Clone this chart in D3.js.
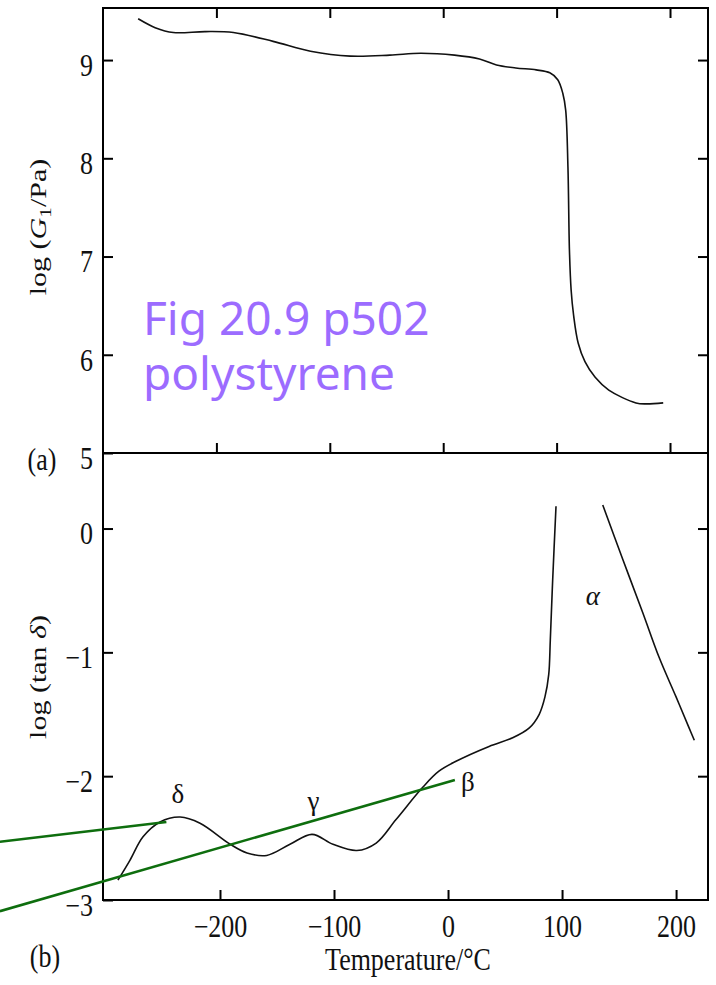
<!DOCTYPE html>
<html>
<head>
<meta charset="utf-8">
<script src="https://cdn.jsdelivr.net/npm/d3@7"></script>
<style>
  body { margin: 0; background: #fff; }
</style>
</head>
<body>
<div id="chart"></div>
<script>
// panel (a): storage modulus, log(G1/Pa) against temperature
var gTemp = [-269, -254, -238, -210, -185, -150, -117, -82, -47, -20, 10, 32, 47, 64, 82, 94, 101, 105.5, 108, 110, 111.3, 112.8, 115, 119, 125, 134, 146, 170, 179, 194]
var gLog  = [9.42, 9.33, 9.28, 9.29, 9.28, 9.19, 9.09, 9.04, 9.05, 9.07, 9.05, 9.01, 8.95, 8.92, 8.90, 8.87, 8.80, 8.66, 8.49, 7.91, 7.07, 6.66, 6.40, 6.12, 5.93, 5.77, 5.64, 5.51, 5.50, 5.51]

// panel (b): loss tangent, below and above the alpha peak
var tanTempLow = [-289.5, -279, -267.5, -252.6, -235, -217.5, -191, -176.3, -159, -138.6, -119.3, -100.9, -80, -63, -45.6, -22.2, -8, 7, 36, 56.7, 71.3, 80, 85, 88.3, 89.7, 91.8, 94.7]
var tanLogLow  = [-2.84, -2.68, -2.49, -2.37, -2.33, -2.38, -2.55, -2.62, -2.64, -2.55, -2.47, -2.55, -2.60, -2.54, -2.35, -2.09, -1.96, -1.88, -1.76, -1.69, -1.61, -1.50, -1.36, -1.18, -0.90, -0.41, 0.18]
var tanTempHigh = [135.7, 153.3, 170.8, 185.1, 200, 211.4, 216]
var tanLogHigh  = [0.19, -0.25, -0.68, -1.04, -1.36, -1.61, -1.71]

// relaxation names and where they are written
var peakNames = ["δ", "γ", "β", "α"]
var peakTemp  = [-237, -118, 17.5, 127]
var peakLog   = [-2.215, -2.27, -2.12, -0.62]

// green guide lines drawn over panel (b)
var guideStartTemp = [-393, -393], guideStartLog = [-2.53, -3.09]
var guideEndTemp   = [-247, 6],    guideEndLog   = [-2.37, -2.03]

var tempTicks = [-200, -100, 0, 100, 200]
var gTicks = [5, 6, 7, 8, 9]
var tanTicks = [-3, -2, -1, 0]

var width = 716, height = 985
var plotL = 103, plotR = 708, plotT = 8, plotM = 453, plotB = 900
var serif = "'Liberation Serif', 'Times New Roman', serif"

var svg = d3.select("#chart").append("svg")
    .attr("width", width)
    .attr("height", height)

var xA = d3.scaleLinear().domain([-300, 233.5]).range([plotL, plotR])
var yA = d3.scaleLinear().domain([5, 9.53]).range([plotM, plotT])
var xB = d3.scaleLinear().domain([-302.6, 228]).range([plotL, plotR])
var yB = d3.scaleLinear().domain([-3, 0.61]).range([plotB, plotM])

function styleAxis(g) {
  g.select(".domain").remove()
  g.selectAll("line").attr("stroke", "#000").attr("stroke-width", 2)
  g.selectAll("text")
    .attr("font-family", serif)
    .attr("font-size", 26)
    .attr("fill", "#111")
}

function addAxis(axis, tx, ty, labels) {
  axis.tickSizeInner(-10).tickSizeOuter(0).tickPadding(10)
  if (!labels) axis.tickFormat("")
  var g = svg.append("g")
      .attr("transform", "translate(" + tx + "," + ty + ")")
      .call(axis)
  styleAxis(g)
  return g
}

// panel (a) axes
addAxis(d3.axisLeft(yA).tickValues(gTicks).tickFormat(d3.format("d")), plotL, 0, true)
  .selectAll("text").attr("dy", "0.5em").attr("transform", "scale(1,1.18)")
addAxis(d3.axisRight(yA).tickValues(gTicks.slice(1)), plotR, 0, false)
addAxis(d3.axisTop(xA).tickValues(tempTicks), 0, plotT, false)
addAxis(d3.axisBottom(xA).tickValues(tempTicks), 0, plotM, false)

// panel (b) axes
addAxis(d3.axisLeft(yB).tickValues(tanTicks).tickFormat(d3.format("d")), plotL, 0, true)
  .selectAll("text").attr("dy", "0.5em").attr("transform", "scale(1,1.18)")
addAxis(d3.axisRight(yB).tickValues(tanTicks.slice(1)), plotR, 0, false)
addAxis(d3.axisBottom(xB).tickValues(tempTicks).tickFormat(d3.format("d")), 0, plotB, true)
  .selectAll("text").attr("y", 0).attr("dy", 0).attr("transform", "translate(0,37) scale(1,1.18)")

// frames
svg.append("rect")
    .attr("x", plotL).attr("y", plotT)
    .attr("width", plotR - plotL).attr("height", plotB - plotT)
    .attr("fill", "none").attr("stroke", "#000").attr("stroke-width", 2)
svg.append("line")
    .attr("x1", plotL).attr("x2", plotR)
    .attr("y1", plotM).attr("y2", plotM)
    .attr("stroke", "#000").attr("stroke-width", 2)

// curves
var smooth = d3.curveCatmullRom.alpha(0.5)
var lineA = d3.line().x(d => xA(d[0])).y(d => yA(d[1])).curve(smooth)
var lineB = d3.line().x(d => xB(d[0])).y(d => yB(d[1])).curve(smooth)

svg.append("path")
    .attr("d", lineA(d3.zip(gTemp, gLog)))
    .attr("fill", "none").attr("stroke", "#111").attr("stroke-width", 1.6)

svg.selectAll(".tan")
  .data([d3.zip(tanTempLow, tanLogLow), d3.zip(tanTempHigh, tanLogHigh)])
  .join("path")
    .attr("class", "tan")
    .attr("d", lineB)
    .attr("fill", "none").attr("stroke", "#111").attr("stroke-width", 1.6)

// peak labels
svg.selectAll(".peak")
  .data(peakNames)
  .join("text")
    .attr("class", "peak")
    .attr("x", (d, i) => xB(peakTemp[i]))
    .attr("y", (d, i) => yB(peakLog[i]))
    .attr("text-anchor", "middle")
    .attr("font-family", serif)
    .attr("font-style", (d, i) => i == 3 ? "italic" : "normal")
    .attr("font-size", 27)
    .attr("fill", "#111")
    .text(d => d)

// green guides
svg.selectAll(".guide")
  .data(guideStartTemp)
  .join("line")
    .attr("class", "guide")
    .attr("x1", (d, i) => xB(guideStartTemp[i]))
    .attr("y1", (d, i) => yB(guideStartLog[i]))
    .attr("x2", (d, i) => xB(guideEndTemp[i]))
    .attr("y2", (d, i) => yB(guideEndLog[i]))
    .attr("stroke", "#0e6e0e").attr("stroke-width", 2.6)

// axis titles
var tA = svg.append("text")
    .attr("transform", "translate(38,227) rotate(-90) scale(1.25,1)")
    .attr("text-anchor", "middle").attr("dy", "0.35em")
    .attr("font-family", serif).attr("font-size", 24).attr("fill", "#111")
tA.append("tspan").text("log (")
tA.append("tspan").attr("font-style", "italic").text("G")
tA.append("tspan").attr("font-size", 17).attr("dy", 5).text("1")
tA.append("tspan").attr("dy", -5).text("/Pa)")

var tB = svg.append("text")
    .attr("transform", "translate(38,677) rotate(-90) scale(1.25,1)")
    .attr("text-anchor", "middle").attr("dy", "0.35em")
    .attr("font-family", serif).attr("font-size", 24).attr("fill", "#111")
tB.append("tspan").text("log (tan ")
tB.append("tspan").attr("font-style", "italic").text("δ")
tB.append("tspan").text(")")

svg.append("text")
    .attr("transform", "translate(408,970) scale(1,1.18)")
    .attr("text-anchor", "middle")
    .attr("font-family", serif).attr("font-size", 26).attr("fill", "#111")
    .text("Temperature/°C")

svg.append("text")
    .attr("transform", "translate(42,470) scale(1,1.18)")
    .attr("text-anchor", "middle")
    .attr("font-family", serif).attr("font-size", 26).attr("fill", "#111")
    .text("(a)")
svg.append("text")
    .attr("transform", "translate(45,967) scale(1,1.18)")
    .attr("text-anchor", "middle")
    .attr("font-family", serif).attr("font-size", 26).attr("fill", "#111")
    .text("(b)")

// purple note, two separate lines
svg.selectAll(".note")
  .data(["Fig 20.9 p502", "polystyrene"])
  .join("text")
    .attr("class", "note")
    .attr("x", 143)
    .attr("y", (d, i) => 335 + i * 55)
    .attr("font-family", "'Noto Sans', sans-serif")
    .attr("font-size", 46)
    .attr("fill", "#9c6cff")
    .text(d => d)
</script>
</body>
</html>
